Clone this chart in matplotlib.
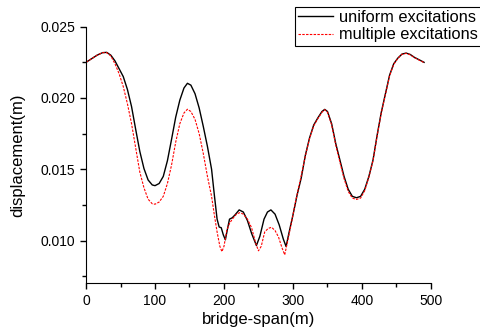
import matplotlib
matplotlib.use("Agg")
import matplotlib.pyplot as plt
from matplotlib.ticker import MultipleLocator

plt.rcParams['font.family'] = ['Liberation Sans', 'DejaVu Sans']

# bridge span positions (m) and displacement (m)
span_uniform = [0, 8, 16, 24, 30, 36, 42, 48, 54, 60, 66, 72, 78, 84, 90, 96, 100,
                106, 112, 118, 124, 130, 136, 142, 147, 152, 158, 164, 170, 176, 182,
                186, 190, 193, 196, 199, 202, 205, 208, 212, 216, 222, 228, 234, 240,
                247, 252, 258, 263, 268, 274, 280, 286, 290, 294, 300, 306, 312, 318,
                324, 330, 336, 342, 346, 350, 356, 362, 368, 374, 380, 386, 392, 398,
                404, 410, 416, 422, 428, 434, 440, 446, 452, 458, 464, 470, 476, 482, 490]
disp_uniform = [0.02250, 0.02275, 0.02300, 0.02318, 0.02320, 0.02300, 0.02260, 0.02205,
                0.02150, 0.02060, 0.01940, 0.01780, 0.01625, 0.01505, 0.01425, 0.01390,
                0.01385, 0.01400, 0.01450, 0.01560, 0.01710, 0.01865, 0.01985, 0.02070,
                0.02103, 0.02090, 0.02030, 0.01930, 0.01800, 0.01660, 0.01500, 0.01320,
                0.01150, 0.01095, 0.01090, 0.01040, 0.01005, 0.01080, 0.01150, 0.01160,
                0.01180, 0.01215, 0.01200, 0.01140, 0.01050, 0.00965, 0.01030, 0.01150,
                0.01200, 0.01215, 0.01185, 0.01110, 0.01010, 0.00958, 0.01050, 0.01180,
                0.01320, 0.01440, 0.01600, 0.01720, 0.01810, 0.01860, 0.01905, 0.01920,
                0.01905, 0.01820, 0.01680, 0.01565, 0.01450, 0.01360, 0.01310, 0.01300,
                0.01310, 0.01360, 0.01450, 0.01565, 0.01740, 0.01900, 0.02030, 0.02160,
                0.02240, 0.02280, 0.02308, 0.02315, 0.02305, 0.02285, 0.02270, 0.02250]

span_multiple = [0, 8, 16, 24, 30, 36, 42, 48, 54, 60, 66, 72, 78, 84, 90, 96, 100,
                 106, 112, 118, 124, 130, 136, 142, 147, 152, 158, 164, 170, 176, 182,
                 186, 190, 194, 197, 200, 204, 208, 212, 218, 223, 228, 234, 240, 246,
                 250, 254, 259, 264, 269, 274, 279, 284, 288, 292, 298, 304, 310, 318,
                 324, 330, 336, 342, 346, 350, 356, 362, 368, 374, 380, 386, 392, 398,
                 404, 410, 416, 422, 428, 434, 440, 446, 452, 458, 464, 470, 476, 482, 490]
disp_multiple = [0.02250, 0.02275, 0.02300, 0.02318, 0.02318, 0.02295, 0.02240, 0.02170,
                 0.02080, 0.01960, 0.01820, 0.01650, 0.01480, 0.01370, 0.01290, 0.01258,
                 0.01255, 0.01270, 0.01310, 0.01400, 0.01530, 0.01690, 0.01820, 0.01895,
                 0.01921, 0.01905, 0.01850, 0.01750, 0.01610, 0.01450, 0.01310, 0.01180,
                 0.01060, 0.00960, 0.00922, 0.00960, 0.01070, 0.01120, 0.01150, 0.01185,
                 0.01196, 0.01185, 0.01150, 0.01090, 0.00980, 0.00928, 0.00960, 0.01060,
                 0.01085, 0.01093, 0.01070, 0.01025, 0.00950, 0.00900, 0.00990, 0.01130,
                 0.01280, 0.01410, 0.01595, 0.01715, 0.01805, 0.01855, 0.01900, 0.01918,
                 0.01900, 0.01812, 0.01670, 0.01550, 0.01435, 0.01345, 0.01298, 0.01288,
                 0.01298, 0.01350, 0.01445, 0.01560, 0.01735, 0.01895, 0.02025, 0.02155,
                 0.02236, 0.02278, 0.02306, 0.02313, 0.02303, 0.02283, 0.02268, 0.02248]

fig = plt.figure(figsize=(4.81, 3.35), dpi=100)
ax = fig.add_axes([0.1788, 0.1543, 0.7172, 0.766])

ax.plot(span_uniform, disp_uniform, color='black', linewidth=1.0, label='uniform excitations')
ax.plot(span_multiple, disp_multiple, color='red', linewidth=0.8, linestyle=(0, (2.2, 1.2)),
        label='multiple excitations')

ax.set_xlim(0, 500)
ax.set_ylim(0.007, 0.025)
ax.xaxis.set_major_locator(MultipleLocator(100))
ax.xaxis.set_minor_locator(MultipleLocator(50))
ax.yaxis.set_major_locator(MultipleLocator(0.005))
ax.yaxis.set_minor_locator(MultipleLocator(0.0025))
ax.yaxis.set_major_formatter(matplotlib.ticker.FormatStrFormatter('%.3f'))

for side in ['top', 'right']:
    ax.spines[side].set_visible(False)
ax.tick_params(which='major', direction='out', length=4, width=1, labelsize=10)
ax.tick_params(which='minor', direction='out', length=3, width=1)

ax.set_xlabel('bridge-span(m)', fontsize=12, labelpad=3)
ax.set_ylabel('displacement(m)', fontsize=12, labelpad=11)

leg = fig.legend(loc='upper left', bbox_to_anchor=(295 / 481, 1 - 6.5 / 335), fontsize=11.8,
                 frameon=True, fancybox=False, edgecolor='black', framealpha=1,
                 borderpad=0.2, labelspacing=0.15, handlelength=2.1, handletextpad=0.4,
                 borderaxespad=0)
leg.get_frame().set_linewidth(0.8)

fig.savefig('out.png', dpi=100)
